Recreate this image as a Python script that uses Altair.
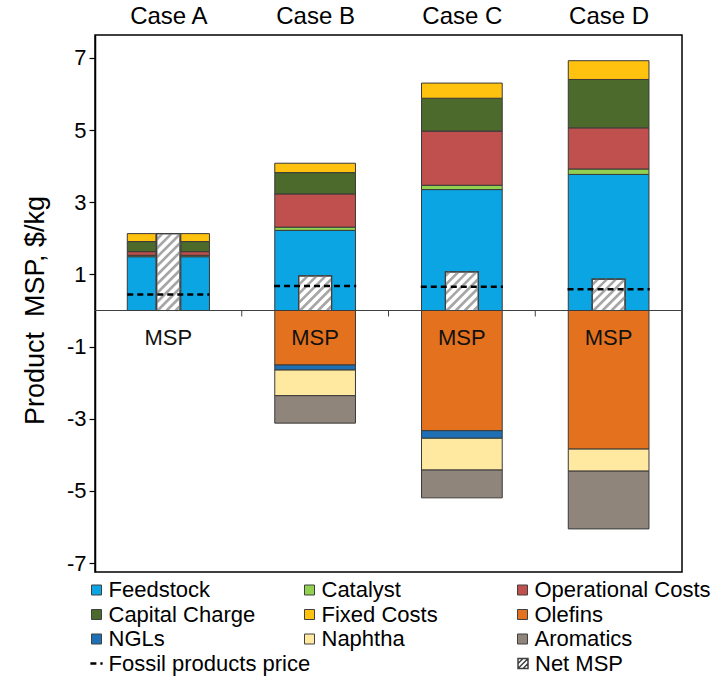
import altair as alt
import pandas as pd

# ---- data -------------------------------------------------------------
cases = ["Case A", "Case B", "Case C", "Case D"]
components = [
    "Feedstock", "Catalyst", "Operational Costs",
    "Capital Charge", "Fixed Costs", "Olefins",
    "NGLs", "Naphtha", "Aromatics",
]
colors = [
    "#0BA5E3", "#92D050", "#C0504D",
    "#4B6A2C", "#FFC20E", "#E4711E",
    "#1F6FB5", "#FFE9A0", "#8F857B",
]

# cost contributions ($/kg), positive
feedstock = [1.49, 2.22, 3.35, 3.77]
catalyst = [0.04, 0.09, 0.12, 0.15]
operational = [0.10, 0.92, 1.50, 1.14]
capital = [0.28, 0.59, 0.91, 1.34]
fixed = [0.22, 0.26, 0.42, 0.52]
# co-product credits ($/kg), negative
olefins = [0.0, -1.51, -3.33, -3.84]
ngls = [0.0, -0.14, -0.21, 0.0]
naphtha = [0.0, -0.71, -0.88, -0.61]
aromatics = [0.0, -0.76, -0.77, -1.60]

fossil_price = [0.44, 0.68, 0.66, 0.59]
net_msp = [2.13, 0.96, 1.07, 0.87]

series = [feedstock, catalyst, operational, capital, fixed,
          olefins, ngls, naphtha, aromatics]

# ---- layout -----------------------------------------------------------
W, H = 587, 537
Y_TOP, Y_BOT = 7.632, -7.244
KX = W / 4.0                 # px per case unit
KY = H / (Y_TOP - Y_BOT)     # px per $/kg
FONT = "Liberation Sans"

xscale = alt.Scale(domain=[-0.5, 3.5], nice=False, zero=False)
yscale = alt.Scale(domain=[Y_BOT, Y_TOP], nice=False, zero=False)

BAR_HALF = 0.275
HATCH_HALF = 0.112
# Case A shows the cost stack twice, on both sides of the net bar
SPLIT_SLOTS = [(-0.28, -0.085), (0.085, 0.28)]
SPLIT_HATCH = 0.08

rows = []
for i, case in enumerate(cases):
    slots = SPLIT_SLOTS if i == 0 else [(-BAR_HALF, BAR_HALF)]
    for s, (a, b) in enumerate(slots):
        for j, comp in enumerate(components):
            v = series[j][i]
            if v == 0:
                continue
            rows.append(dict(case=case, slot=s, comp=comp, order=j,
                             value=v, x0=i + a, x1=i + b))
bars_df = pd.DataFrame(rows)

hatch_rows, stripe_rows = [], []
slope = KX / KY              # 45 degree stripes in screen space
step = 9.0 / KY              # vertical distance between stripes
for i, case in enumerate(cases):
    hw = SPLIT_HATCH if i == 0 else HATCH_HALF
    xl, xr, top = i - hw, i + hw, net_msp[i]
    hatch_rows.append(dict(case=case, x0=xl, x1=xr, y0=0.0, y1=top,
                           lab="Net MSP"))
    c = -(xr - xl) * slope + step * 0.5
    while c < top:
        xa = max(xl, xl + (0.0 - c) / slope)
        xb = min(xr, xl + (top - c) / slope)
        if xb > xa:
            stripe_rows.append(dict(xa=xa, xb=xb,
                                    ya=c + (xa - xl) * slope,
                                    yb=c + (xb - xl) * slope))
        c += step
hatch_df = pd.DataFrame(hatch_rows)
stripe_df = pd.DataFrame(stripe_rows)

price_df = pd.DataFrame(dict(
    x0=[i - 0.28 for i in range(4)], x1=[i + 0.28 for i in range(4)],
    y=fossil_price, lab="Fossil products price"))
label_df = pd.DataFrame(dict(x=list(range(4)), y=0.0, t="MSP"))
zero_df = pd.DataFrame(dict(x0=[-0.5], x1=[3.5], y=[0.0]))
sep_df = pd.DataFrame(dict(x=[0.5, 1.5, 2.5], y0=0.0, y1=-6.0 / KY))

# ---- axes -------------------------------------------------------------
yaxis = alt.Axis(
    values=[-7, -5, -3, -1, 1, 3, 5, 7], grid=False,
    labelExpr="'' + datum.value",
    tickSize=6, tickColor="black", tickWidth=1.2,
    domainColor="black", domainWidth=1.5,
    labelFontSize=22, labelColor="black", labelFont=FONT, labelPadding=3,
    title="Product\u00a0 MSP, $/kg", titleFontSize=27, titleFont=FONT,
    titleFontWeight="normal", titleColor="black", titlePadding=17,
    titleY=275,
)
label_expr = "[" + ",".join("'%s'" % c for c in cases) + "][datum.value]"
xaxis = alt.Axis(
    orient="top", values=[0, 1, 2, 3], labelExpr=label_expr,
    ticks=False, domain=False, grid=False, title=None, labelFlush=False,
    labelFontSize=24, labelColor="black", labelFont=FONT, labelPadding=7,
)


def X(field):
    return alt.X(field, scale=xscale, axis=xaxis)


def Y(field):
    return alt.Y(field, scale=yscale, axis=yaxis)


legend_text = dict(labelFontSize=22, labelFont=FONT, labelColor="black",
                   labelOffset=1, labelLimit=400, padding=0, title=None,
                   orient="none")
COL1_X, COL3_X, ROW4_Y = -9.5, 417, 617.5

# ---- layers -----------------------------------------------------------
zero_line = alt.Chart(zero_df).mark_rule(color="#404040", strokeWidth=1).encode(
    x=X("x0:Q"), x2="x1:Q", y=Y("y:Q"),
)

sep_ticks = alt.Chart(sep_df).mark_rule(color="#404040", strokeWidth=1).encode(
    x=X("x:Q"), y=Y("y0:Q"), y2="y1:Q",
)

bars = alt.Chart(bars_df).transform_stack(
    stack="value", groupby=["case", "slot"], as_=["y0", "y1"],
    sort=[alt.SortField("order")],
).mark_bar(stroke="#3a3a3a", strokeWidth=1).encode(
    x=X("x0:Q"), x2="x1:Q", y=Y("y0:Q"), y2="y1:Q",
    fill=alt.Fill(
        "comp:N",
        scale=alt.Scale(domain=components, range=colors),
        legend=alt.Legend(
            legendX=COL1_X, legendY=544, direction="horizontal",
            columns=3, gridAlign="all", columnPadding=13, rowPadding=2.5,
            symbolType="square", symbolSize=100, symbolStrokeColor="#404040",
            symbolStrokeWidth=1, **legend_text,
        ),
    ),
)

# white box of the net MSP bar; its outline colour carries the legend entry
hatch_symbol = "M-1,-1H1V1H-1Z M-1,1L1,-1 M-1,0L0,-1 M0,1L1,0"
hatch_bg = alt.Chart(hatch_df).mark_bar(fill="white", strokeWidth=1.2).encode(
    x=X("x0:Q"), x2="x1:Q", y=Y("y0:Q"), y2="y1:Q",
    stroke=alt.Stroke(
        "lab:N", scale=alt.Scale(domain=["Net MSP"], range=["#404040"]),
        legend=alt.Legend(
            legendX=COL3_X, legendY=ROW4_Y,
            symbolType=hatch_symbol, symbolSize=100,
            symbolFillColor="white", symbolStrokeWidth=1.5,
            **legend_text,
        ),
    ),
)

stripes = alt.Chart(stripe_df).mark_rule(color="#A6A6A6", strokeWidth=2.6, strokeCap="butt").encode(
    x=X("xa:Q"), x2="xb:Q", y=Y("ya:Q"), y2="yb:Q",
)

hatch_edge = alt.Chart(hatch_df).mark_bar(
    fill="white", fillOpacity=0, stroke="#404040", strokeWidth=1.2
).encode(
    x=X("x0:Q"), x2="x1:Q", y=Y("y0:Q"), y2="y1:Q",
)

price = alt.Chart(price_df).mark_rule(color="black", strokeWidth=2.5).encode(
    x=X("x0:Q"), x2="x1:Q", y=Y("y:Q"),
    strokeDash=alt.StrokeDash(
        "lab:N", scale=alt.Scale(range=[[6, 4], [6, 4]]),
        legend=alt.Legend(
            legendX=COL1_X, legendY=ROW4_Y,
            symbolType="stroke", symbolSize=150, symbolStrokeColor="black",
            symbolStrokeWidth=2.5, **legend_text,
        ),
    ),
)

msp_text = alt.Chart(label_df).mark_text(
    fontSize=22, font=FONT, color="#111111", baseline="middle", dy=27
).encode(
    x=X("x:Q"), y=Y("y:Q"), text="t:N",
)

chart = alt.layer(
    zero_line, sep_ticks, bars, hatch_bg, stripes, hatch_edge, price, msp_text
).properties(
    width=W, height=H,
    autosize=alt.AutoSizeParams(type="none"),
    padding={"left": 95, "top": 35, "right": 38, "bottom": 108},
).configure(
    font=FONT, background="white"
).configure_view(
    stroke="black", strokeWidth=1.5
)

chart.save("out.html", embed_options={"renderer": "svg", "actions": False})
